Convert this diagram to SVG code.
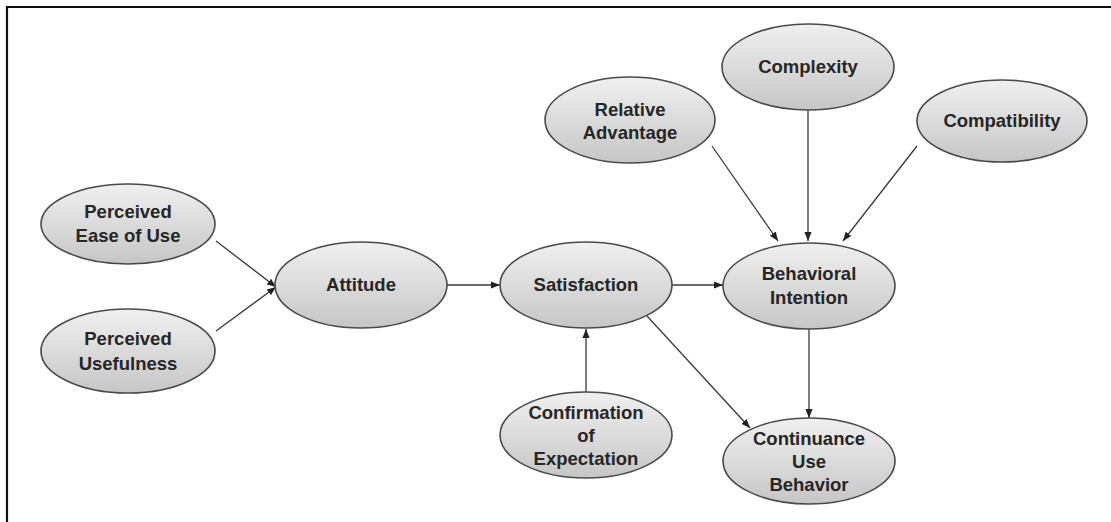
<svg xmlns="http://www.w3.org/2000/svg" width="1111" height="522" viewBox="0 0 1111 522">
<defs>
<linearGradient id="g" x1="0" y1="0" x2="0" y2="1">
<stop offset="0" stop-color="#f0f0f0"/>
<stop offset="1" stop-color="#c6c6c6"/>
</linearGradient>
<marker id="ah" viewBox="0 0 10 10" refX="10" refY="5" markerWidth="9" markerHeight="9" markerUnits="userSpaceOnUse" orient="auto">
<path d="M0,1 L10,5 L0,9 z" fill="#222"/>
</marker>
</defs>
<style>
.n ellipse{fill:url(#g);stroke:#4a4a4a;stroke-width:1.6}
.n text{font-family:"Liberation Sans",Arial,sans-serif;font-weight:bold;font-size:18.5px;fill:#262626;text-anchor:middle}
.c line{stroke:#3a3a3a;stroke-width:1.3;marker-end:url(#ah)}
.frame{stroke:#111;stroke-width:2.2;fill:none}
</style>
<rect width="1111" height="522" fill="#fff"/>
<path class="frame" d="M7,522 L7,7 L1111,7"/>
<g class="c">
<line x1="216" y1="241" x2="276" y2="287"/>
<line x1="216" y1="331" x2="276" y2="287"/>
<line x1="447" y1="285" x2="500" y2="285"/>
<line x1="672" y1="285" x2="723" y2="285"/>
<line x1="586" y1="392" x2="586" y2="329"/>
<line x1="647" y1="316" x2="750" y2="428"/>
<line x1="809" y1="329" x2="809" y2="418"/>
<line x1="712" y1="146" x2="778" y2="241"/>
<line x1="808" y1="110" x2="808" y2="241"/>
<line x1="917" y1="146" x2="843" y2="241"/>
</g>
<g id="peu" class="n"><ellipse cx="128" cy="224" rx="87" ry="40"/><text x="128" y="218">Perceived</text><text x="128" y="242">Ease of Use</text></g>
<g id="pu" class="n"><ellipse cx="128" cy="351" rx="87" ry="42"/><text x="128" y="345">Perceived</text><text x="128" y="370">Usefulness</text></g>
<g id="att" class="n"><ellipse cx="361" cy="285" rx="86" ry="43"/><text x="361" y="291">Attitude</text></g>
<g id="sat" class="n"><ellipse cx="586" cy="285" rx="86" ry="43"/><text x="586" y="291">Satisfaction</text></g>
<g id="bi" class="n"><ellipse cx="809" cy="286" rx="86" ry="43"/><text x="809" y="280">Behavioral</text><text x="809" y="304">Intention</text></g>
<g id="coe" class="n"><ellipse cx="586" cy="435" rx="86" ry="43"/><text x="586" y="419">Confirmation</text><text x="586" y="442">of</text><text x="586" y="465">Expectation</text></g>
<g id="cub" class="n"><ellipse cx="809" cy="461" rx="86" ry="43"/><text x="809" y="445">Continuance</text><text x="809" y="468">Use</text><text x="809" y="491">Behavior</text></g>
<g id="ra" class="n"><ellipse cx="630" cy="120" rx="85" ry="43"/><text x="630" y="116">Relative</text><text x="630" y="139">Advantage</text></g>
<g id="cx" class="n"><ellipse cx="808" cy="67" rx="86" ry="43"/><text x="808" y="73">Complexity</text></g>
<g id="cp" class="n"><ellipse cx="1002" cy="121" rx="85" ry="41"/><text x="1002" y="127">Compatibility</text></g>
</svg>
